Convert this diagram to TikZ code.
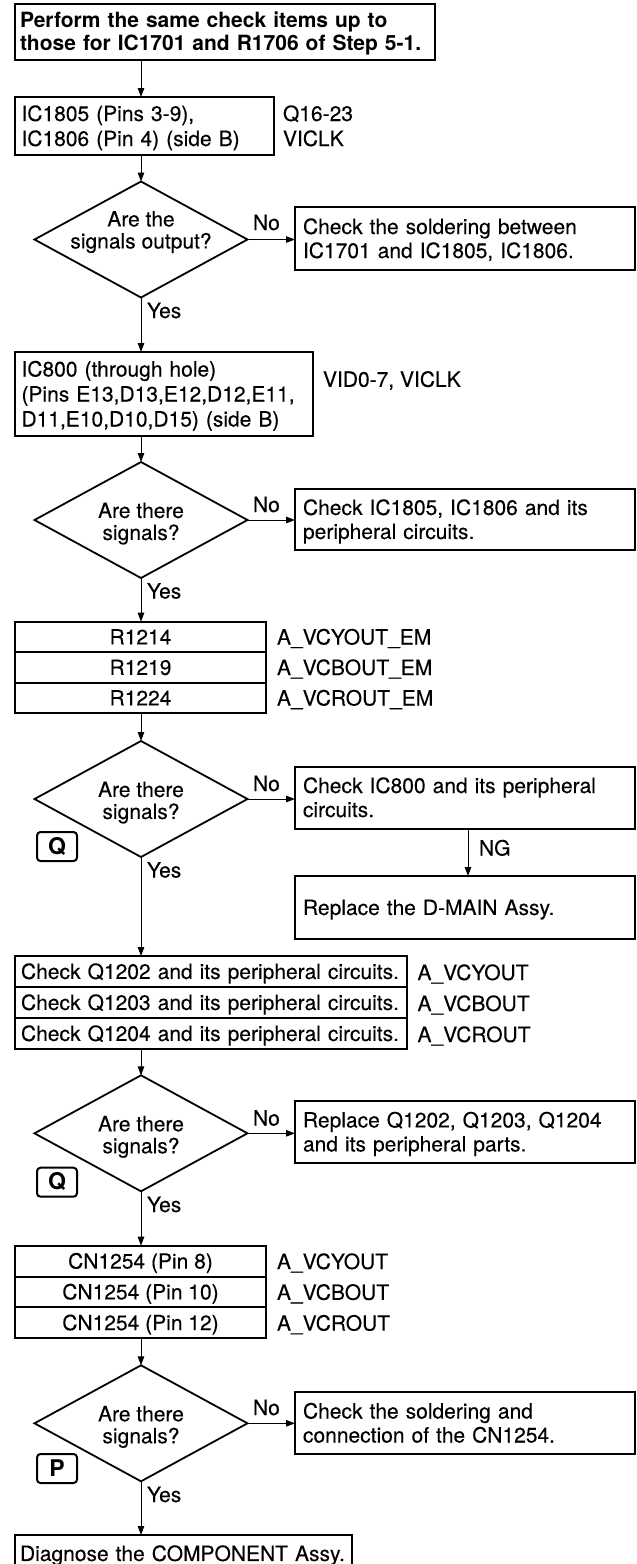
\documentclass[tikz,border=0pt]{standalone}
\usepackage{fontspec}
\setmainfont{TeX Gyre Heros}[UprightFeatures={FakeBold=0.2}]
\usetikzlibrary{shapes.geometric,arrows.meta}
\newcommand\stt{\rule[-4.5pt]{0pt}{24pt}}
\newcommand\ff[1]{\fontsize{21}{#1}\selectfont\lineskiplimit=-100pt\relax}
\begin{document}
\begin{tikzpicture}[x=1pt,y=-1pt,
  box/.style={draw, line width=2pt, inner ysep=0pt, outer sep=0pt, anchor=north west, align=left, font=\ff{24}},
  cell/.style={draw, line width=2pt, inner sep=0pt, outer sep=0pt, anchor=north west, align=center, font=\ff{24}},
  dia/.style={draw, diamond, line width=1.8pt, minimum width=213pt, minimum height=116pt, inner sep=0pt, outer sep=0pt},
  dtext/.style={inner sep=0pt, outer sep=0pt, align=center, font=\ff{22}},
  lab/.style={inner sep=0pt, outer sep=0pt, align=left, font=\ff{25}},
  badge/.style={draw, line width=2pt, rounded corners=3.5pt, minimum width=40pt, minimum height=29pt, inner sep=0pt, outer sep=0pt, font=\bfseries\fontsize{23}{24}\selectfont},
  arr/.style={line width=1pt, -{Triangle[length=9pt,width=6.5pt]}},
]
\useasboundingbox (0,0) rectangle (637,1564);
\fill[white] (0,0) rectangle (637,1564);

% ---------- boxes ----------
\node[box, minimum width=420pt, minimum height=56pt, text width=410pt, inner xsep=5pt, font=\bfseries\ff{23}] (top) at (15,4)
  {\stt Perform the same check items up to\\\stt those for IC1701 and R1706 of Step 5-1.};
\node[box, minimum width=259pt, minimum height=58pt, text width=246pt, inner xsep=6.5pt, font=\ff{25}] (b2) at (15,97)
  {\stt IC1805 (Pins 3-9),\\\stt IC1806 (Pin 4) (side B)};
\node[lab, anchor=west] (l2) at (283,126) {\stt Q16-23\\\stt VICLK};

\node[dia] (d1) at (141,239.5) {};
\node[dtext] (t1) at (141,230) {\stt Are the\\\stt signals output?};
\node[box, minimum width=340pt, minimum height=63pt, text width=324pt, inner xsep=8pt] (c1) at (295,207)
  {\stt Check the soldering between\\\stt IC1701 and IC1805, IC1806.};

\node[box, minimum width=298pt, minimum height=84pt, text width=285pt, inner xsep=6.5pt, font=\ff{25}] (ic) at (15,352)
  {\stt IC800 (through hole)\\\stt (Pins E13,D13,E12,D12,E11,\\\stt D11,E10,D10,D15) (side B)};
\node[lab, anchor=west] (lic) at (323,379.3) {\stt VID0-7, VICLK};

\node[dia] (d2) at (141,520) {};
\node[dtext] (t2) at (141,521.5) {\stt Are there\\\stt signals?};
\node[box, minimum width=340pt, minimum height=61pt, text width=324pt, inner xsep=8pt] (c2) at (295,489)
  {\stt Check IC1805, IC1806 and its\\\stt peripheral circuits.};

\node[cell, minimum width=251pt, minimum height=30.5pt] (r1) at (15,621.7) {\stt R1214};
\node[cell, minimum width=251pt, minimum height=30.5pt] (r2) at (15,652.2) {\stt R1219};
\node[cell, minimum width=251pt, minimum height=30.5pt] (r3) at (15,682.7) {\stt R1224};
\node[lab, anchor=west] (lr1) at (277,637) {\stt A\_VCYOUT\_EM};
\node[lab, anchor=west] (lr2) at (277,667.5) {\stt A\_VCBOUT\_EM};
\node[lab, anchor=west] (lr3) at (277,698) {\stt A\_VCROUT\_EM};

\node[dia] (d3) at (141,799) {};
\node[dtext] (t3) at (141,800.5) {\stt Are there\\\stt signals?};
\node[box, minimum width=340pt, minimum height=62pt, text width=324pt, inner xsep=8pt] (c3) at (295,766.5)
  {\stt Check IC800 and its peripheral\\\stt circuits.};
\node[box, minimum width=340pt, minimum height=63pt, text width=324pt, inner xsep=8pt] (c4) at (295,876)
  {\stt Replace the D-MAIN Assy.};
\node[badge] (q1) at (57,846.5) {\stt Q};

\node[cell, minimum width=392pt, minimum height=31pt, text width=380pt, inner xsep=6pt, align=left] (q1202) at (15,956) {\stt Check Q1202 and its peripheral circuits.};
\node[cell, minimum width=392pt, minimum height=31pt, text width=380pt, inner xsep=6pt, align=left] (q1203) at (15,987) {\stt Check Q1203 and its peripheral circuits.};
\node[cell, minimum width=392pt, minimum height=31pt, text width=380pt, inner xsep=6pt, align=left] (q1204) at (15,1018) {\stt Check Q1204 and its peripheral circuits.};
\node[lab, anchor=west] (lq1) at (417.5,972.5) {\stt A\_VCYOUT};
\node[lab, anchor=west] (lq2) at (417.5,1003.5) {\stt A\_VCBOUT};
\node[lab, anchor=west] (lq3) at (417.5,1034.5) {\stt A\_VCROUT};

\node[dia] (d4) at (141,1133.3) {};
\node[dtext] (t4) at (141,1134.8) {\stt Are there\\\stt signals?};
\node[box, minimum width=340pt, minimum height=62pt, text width=324pt, inner xsep=8pt] (c5) at (295,1101)
  {\stt Replace Q1202, Q1203, Q1204\\\stt and its peripheral parts.};
\node[badge] (q2) at (57,1182.2) {\stt Q};

\node[cell, minimum width=251pt, minimum height=30.8pt] (cn1) at (15,1245.7) {\stt CN1254 (Pin 8)};
\node[cell, minimum width=251pt, minimum height=30.8pt] (cn2) at (15,1276.5) {\stt CN1254 (Pin 10)};
\node[cell, minimum width=251pt, minimum height=30.8pt] (cn3) at (15,1307.3) {\stt CN1254 (Pin 12)};
\node[lab, anchor=west] (lc1) at (277,1261.5) {\stt A\_VCYOUT};
\node[lab, anchor=west] (lc2) at (277,1292.3) {\stt A\_VCBOUT};
\node[lab, anchor=west] (lc3) at (277,1323.1) {\stt A\_VCROUT};

\node[dia] (d5) at (141,1423.3) {};
\node[dtext] (t5) at (141,1424.8) {\stt Are there\\\stt signals?};
\node[box, minimum width=340pt, minimum height=62pt, text width=324pt, inner xsep=8pt] (c6) at (295,1392)
  {\stt Check the soldering and\\\stt connection of the CN1254.};
\node[badge] (p1) at (57,1468.5) {\stt P};

\node[box, minimum width=337pt, minimum height=37pt, text width=327pt, inner xsep=5pt] (fin) at (15,1535)
  {\stt Diagnose the COMPONENT Assy.};

% ---------- connectors ----------
\draw[arr] (top.south -| d1.north) -- (b2.north -| d1.north);
\draw[arr] (b2.south -| d1.north) -- (d1.north);
\draw[arr] (d1.east) -- (d1.east -| c1.west);
\draw[arr] (d1.south) -- (ic.north -| d1.south);
\draw[arr] (ic.south -| d2.north) -- (d2.north);
\draw[arr] (d2.east) -- (d2.east -| c2.west);
\draw[arr] (d2.south) -- (r1.north -| d2.south);
\draw[arr] (r3.south -| d3.north) -- (d3.north);
\draw[arr] (d3.east) -- (d3.east -| c3.west);
\draw[arr] ([xshift=3pt]c3.south) -- ([xshift=3pt]c4.north);
\draw[arr] (d3.south) -- (q1202.north -| d3.south);
\draw[arr] (q1204.south -| d4.north) -- (d4.north);
\draw[arr] (d4.east) -- (d4.east -| c5.west);
\draw[arr] (d4.south) -- (cn1.north -| d4.south);
\draw[arr] (cn3.south -| d5.north) -- (d5.north);
\draw[arr] (d5.east) -- (d5.east -| c6.west);
\draw[arr] (d5.south) -- (fin.north -| d5.south);

% ---------- connector labels ----------
\node[lab, anchor=base west] (no1) at (253,230) {No};
\node[lab, anchor=base west] (no2) at (253,512) {No};
\node[lab, anchor=base west] (no3) at (253,791) {No};
\node[lab, anchor=base west] (no4) at (253,1125.5) {No};
\node[lab, anchor=base west] (no5) at (253,1415) {No};
\node[lab, anchor=base west] (y1) at (147,318) {Yes};
\node[lab, anchor=base west] (y2) at (147,598.5) {Yes};
\node[lab, anchor=base west] (y3) at (147,877.5) {Yes};
\node[lab, anchor=base west] (y4) at (147,1212) {Yes};
\node[lab, anchor=base west] (y5) at (147,1502) {Yes};
\node[lab, anchor=base west] (ng) at (479,855.5) {NG};
\end{tikzpicture}
\end{document}
